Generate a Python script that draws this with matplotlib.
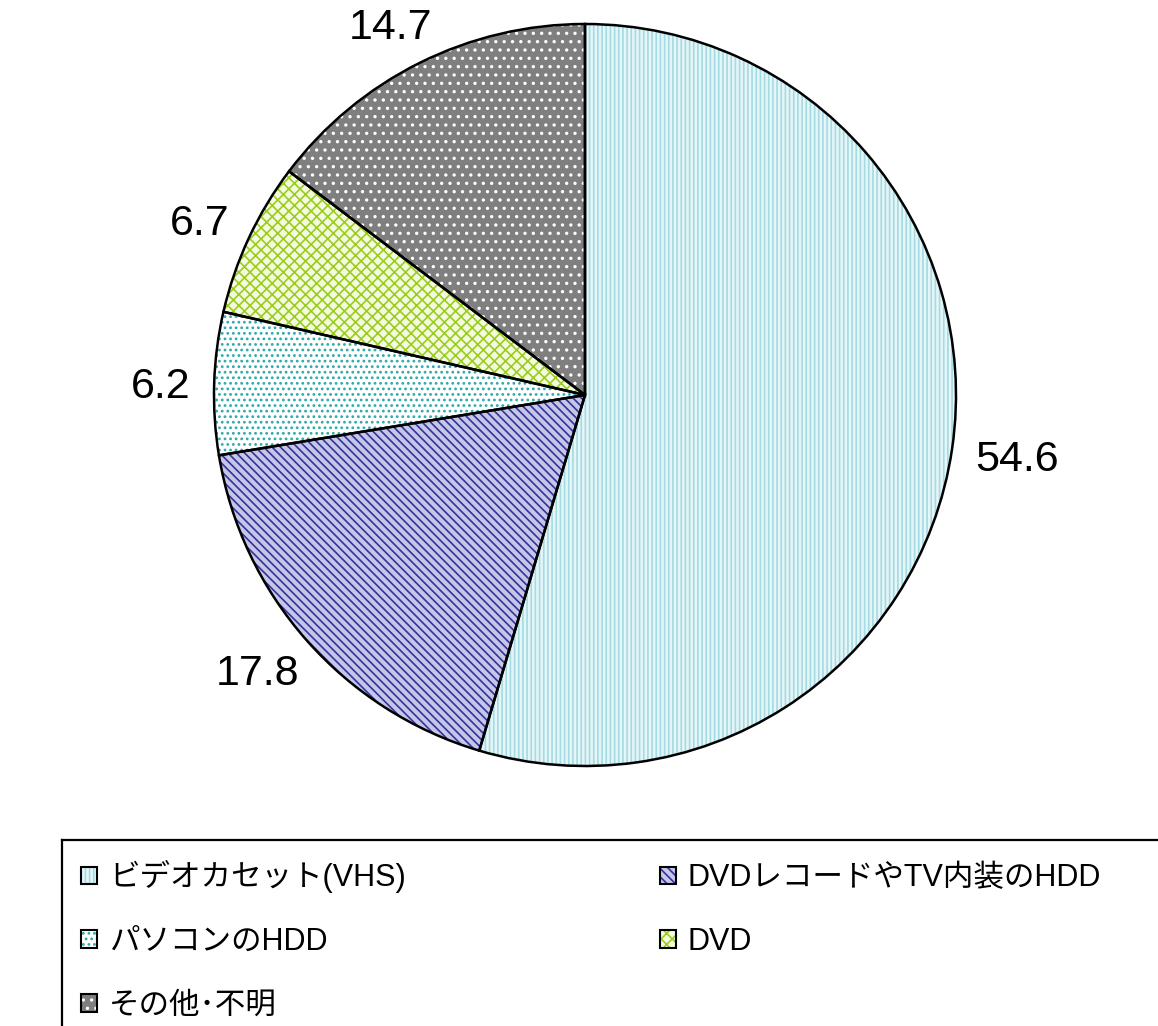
import numpy as np
import matplotlib.pyplot as plt
from matplotlib.patches import Patch
from matplotlib.lines import Line2D
from matplotlib.legend_handler import HandlerTuple

plt.rcParams['font.family'] = ['Liberation Sans', 'Noto Sans CJK JP', 'DejaVu Sans']
plt.rcParams['hatch.linewidth'] = 1.2

labels = ['ビデオカセット(VHS)', 'DVDレコードやTV内装のHDD', 'パソコンのHDD', 'DVD', 'その他･不明']
values = [54.6, 17.8, 6.2, 6.7, 14.7]
faces = ['#E6F6F8', '#C6C6E8', '#FFFFFF', '#F4FAE0', '#7F7F7F']
hatch_colors = ['#A4DBE2', '#33339C', '#2EA8A8', '#9ACD1E', '#FFFFFF']
hatches = ['||||', '\\\\\\\\', '...', 'xxx', '..']

W, H = 1158, 1026
fig = plt.figure(figsize=(W / 100, H / 100), dpi=100)

cx, cy, R = 585, 395, 371
ax = fig.add_axes([(cx - R) / W, (H - cy - R) / H, 2 * R / W, 2 * R / H])

# fill + hatch layer
wedges, _ = ax.pie(values, startangle=90, counterclock=False, radius=1,
                   colors=faces, wedgeprops=dict(linewidth=0))
for w, hc, h in zip(wedges, hatch_colors, hatches):
    w.set_edgecolor(hc)
    w.set_hatch(h)
# outline layer
ax.pie(values, startangle=90, counterclock=False, radius=1,
       colors=['none'] * len(values),
       wedgeprops=dict(edgecolor='black', linewidth=1.8))
ax.set_xlim(-1, 1)
ax.set_ylim(-1, 1)
ax.set_aspect('equal')
ax.axis('off')

# value labels just outside the rim, box pushed outwards along the mid-angle
renderer = fig.canvas.get_renderer()
px_per_unit = R
for w, v in zip(wedges, values):
    ang = np.deg2rad((w.theta1 + w.theta2) / 2)
    c, s = np.cos(ang), np.sin(ang)
    t = ax.text(0, 0, f'{v:.1f}', ha='center', va='center', fontsize=31, color='black')
    bb = t.get_window_extent(renderer)
    r = 1 + 24 / px_per_unit
    t.set_position((r * c + bb.width / 2 * c / px_per_unit,
                    r * s + (bb.height / 2 * s - 5) / px_per_unit))

# legend
handles = []
for fc, hc, h in zip(faces, hatch_colors, hatches):
    p1 = Patch(facecolor=fc, edgecolor=hc, hatch=h, linewidth=0)
    p2 = Patch(facecolor='none', edgecolor='black', linewidth=1.5)
    handles.append((p1, p2))
order = [0, 2, 4, 1, 3]
leg = fig.legend([handles[i] for i in order], [labels[i] for i in order],
                 handler_map={tuple: HandlerTuple(ndivide=1, pad=0)},
                 ncol=2, loc='upper left', bbox_to_anchor=(69 / W, 1 - 848 / H),
                 frameon=False, fontsize=22, handlelength=0.52, handleheight=0.52,
                 handletextpad=0.4, columnspacing=8.3, labelspacing=1.1,
                 borderaxespad=0)

# legend frame (cut off at right and bottom)
fig.add_artist(Line2D([62 / W, 1.0], [1 - 840 / H, 1 - 840 / H], color='black', linewidth=1.6))
fig.add_artist(Line2D([62 / W, 62 / W], [1 - 840 / H, 0], color='black', linewidth=1.6))

fig.savefig('out.png', dpi=100)
